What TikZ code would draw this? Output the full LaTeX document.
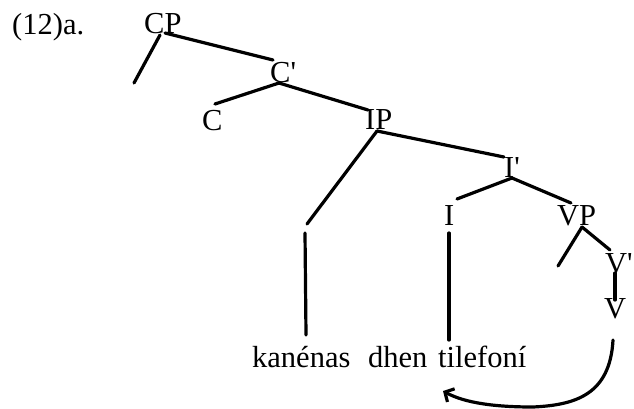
\documentclass[tikz,border=0pt]{standalone}
\usepackage{fontspec}
\setmainfont{Liberation Serif}
\usetikzlibrary{arrows.meta}
\begin{document}
\begin{tikzpicture}[x=1pt,y=-1pt,
  lab/.style={inner sep=0pt,anchor=base west,font=\fontsize{30.5}{34}\selectfont},
  br/.style={line width=3.2pt,line cap=round},
  mv/.style={line width=3.2pt,line cap=round,-{Straight Barb[length=7pt,width=15pt,line width=3.2pt]}}]
\useasboundingbox (0,0) rectangle (634,408);
% labels
\node[lab] (ex) at (12,34) {(12)a.};
\node[lab] (cp) at (144,33) {CP};
\node[lab] (cbar) at (270,82) {C\textquotesingle};
\node[lab] (c) at (202,130) {C};
\node[lab] (ip) at (365,129) {IP};
\node[lab] (ibar) at (504,177) {I\textquotesingle};
\node[lab] (i) at (444,225) {I};
\node[lab] (vp) at (557,225) {VP};
\node[lab] (vbar) at (605,273) {V\textquotesingle};
\node[lab] (v) at (604,318) {V};
\node[lab] (w1) at (252,367) {kanénas};
\node[lab] (w2) at (368,367) {dhen};
\node[lab] (w3) at (438,367) {tilefoní};
% branch end points
\coordinate (cpL) at (134,83);
\coordinate (cpa) at (160,35);
\coordinate (cpb) at (165,33);
\coordinate (cbT) at (273,60);
\coordinate (cbB) at (279,83);
\coordinate (cT) at (215,104);
\coordinate (ipT) at (368,110);
\coordinate (ipB) at (377,131);
\coordinate (ipL) at (307,224);
\coordinate (specT) at (305,233);
\coordinate (specB) at (306,335);
\coordinate (ibT) at (504,157);
\coordinate (ibB) at (512,178);
\coordinate (iT) at (457,199);
\coordinate (iB) at (449,233);
\coordinate (iW) at (449,340);
\coordinate (vpT) at (571,203);
\coordinate (vpB) at (582,227);
\coordinate (vpL) at (558,266);
\coordinate (vbT) at (610,250);
\coordinate (vbB) at (615,273);
\coordinate (vT) at (615,300);
\coordinate (mvS) at (613,340);
\coordinate (mvM) at (533,407);
\coordinate (mvE) at (443,391);
% branches
\draw[br] (cpa) -- (cpL);
\draw[br] (cpb) -- (cbT);
\draw[br] (cbB) -- (cT);
\draw[br] (cbB) -- (ipT);
\draw[br] (ipB) -- (ipL);
\draw[br] (specT) -- (specB);
\draw[br] (ipB) -- (ibT);
\draw[br] (ibB) -- (iT);
\draw[br] (ibB) -- (vpT);
\draw[br] (iB) -- (iW);
\draw[br] (vpB) -- (vpL);
\draw[br] (vpB) -- (vbT);
\draw[br] (vbB) -- (vT);
% movement arrow
\draw[mv] (mvS) .. controls (610,395) and (575,405) .. (mvM)
  .. controls (495,407) and (465,403) .. (mvE);
\end{tikzpicture}
\end{document}
